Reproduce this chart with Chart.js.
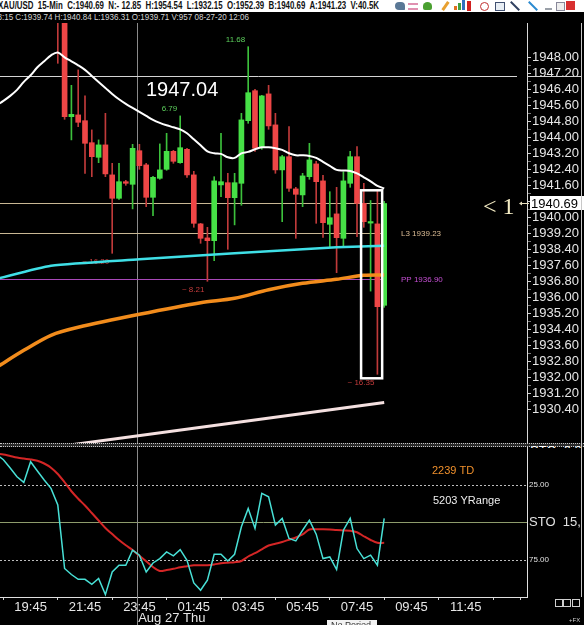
<!DOCTYPE html>
<html>
<head>
<meta charset="utf-8">
<title>XAU/USD 15-Min</title>
<script src="https://cdn.jsdelivr.net/npm/chart.js@4.4.1/dist/chart.umd.min.js"></script>
<style>
  body { margin: 0; background: #000; }
  #wrap { position: relative; width: 584px; height: 625px; overflow: hidden; background: #000;
          font-family: "Liberation Sans", Arial, sans-serif; }
  #hdr { position: absolute; left: 0; top: 0; width: 584px; height: 12px; background: #fff; overflow: hidden; }
  #hdrText { position: absolute; left: -2px; top: 0; font-size: 10px; font-weight: bold; line-height: 12px;
             color: #111; white-space: pre; transform-origin: 0 0; }
  #info { position: absolute; left: 0; top: 12px; font-size: 8.5px; line-height: 11px; color: #d4d4d4;
          white-space: pre; transform-origin: 0 0; }
  .ico { position: absolute; top: 2px; height: 8px; }
  canvas { position: absolute; left: 0; }
  #price { top: 23px; }
  #sto { top: 447px; }
  #divider { position: absolute; left: 0; top: 443px; width: 584px; height: 2px; background: #2a2a2a;
             border-top: 1px dotted #c8c8c8; border-bottom: 1px dotted #c8c8c8; }
  #stoTop { position: absolute; left: 530px; top: 444px; height: 4px; overflow: hidden; color: #fff;
            font-size: 13px; line-height: 13px; white-space: pre; }
  #rim { position: absolute; left: 581px; top: 23px; width: 1px; height: 574px; background: #c8c8c8; }
  .sq { position: absolute; top: 599px; width: 6px; height: 6px; border: 1px solid #cfcfcf; }
  #fx { position: absolute; left: 569px; top: 617px; font-size: 6px; color: #ccc; }
  #noper { position: absolute; left: 327px; top: 620px; width: 50px; height: 5px; background: #f2f2f2;
           overflow: hidden; font-size: 9px; line-height: 11px; color: #333; padding-left: 4px; box-sizing: border-box; }
</style>
</head>
<body>
<div id="wrap">
  <div id="hdr">
    <div id="hdrText">XAU/USD  15-Min  C:1940.69  N:- 12.85  H:1954.54  L:1932.15  O:1952.39  B:1940.69  A:1941.23  V:40.5K</div>
    <div class="ico" style="left:395px;width:10px;background:#5a7896;border-radius:5px 5px 1px 5px"></div>
    <div class="ico" style="left:408px;width:10px;height:3px;top:3px;border-top:2px solid #e090b0;border-bottom:2px solid #e090b0"></div>
    <div class="ico" style="left:423px;width:9px;background:#4aa030;border-radius:50% 50% 2px 2px"></div>
    <div class="ico" style="left:444px;width:3px;height:10px;top:1px;background:#e8a030;transform:rotate(35deg)"></div>
    <div class="ico" style="left:454px;width:3px;height:4px;top:6px;background:#e07020"></div>
    <div class="ico" style="left:458px;width:3px;height:7px;top:3px;background:#40a040"></div>
    <div class="ico" style="left:462px;width:3px;height:10px;top:0;background:#3070c0"></div>
    <div class="ico" style="left:467px;width:4px;height:10px;top:1px;background:#d02020"></div>
    <div class="ico" style="left:480px;width:7px;height:7px;border:1.5px solid #c03030;border-radius:50%"></div>
    <div class="ico" style="left:495px;width:8px;height:7px;border:1px solid #405070;background:#e8eef4"></div>
    <div class="ico" style="left:514px;width:2px;height:12px;top:0;background:#304060;transform:rotate(-45deg)"></div>
    <div class="ico" style="left:532px;width:2px;height:12px;top:0;background:#2a8ad0;transform:rotate(-45deg)"></div>
    <div class="ico" style="left:545px;width:7px;height:2px;top:8px;background:#9aa0a8"></div>
    <div class="ico" style="left:556px;width:7px;height:7px;border:1px solid #889;background:#eee"></div>
    <div class="ico" style="left:566px;width:9px;height:9px;top:1px;background:#d83030"></div>
  </div>
  <div id="info"><span id="infoHead">08</span>:15 C:1939.74 H:1940.84 L:1936.31 O:1939.71 V:957 08-27-20 12:06</div>
  <canvas id="price" width="584" height="420"></canvas>
  <div id="divider"></div>
  <div id="stoTop">STO  0.3</div>
  <canvas id="sto" width="584" height="178"></canvas>
  <div id="rim"></div>
  <div class="sq" style="left:555px"></div>
  <div class="sq" style="left:563px"></div>
  <div class="sq" style="left:572px"></div>
  <div id="fx">+FX</div>
  <div id="noper">No Period</div>
</div>
<script>
// ---- fit the header strips to the width they take in the screenshot
const hdrText = document.getElementById('hdrText');
hdrText.style.transform = 'scaleX(' + (381 / hdrText.getBoundingClientRect().width) + ')';
const info = document.getElementById('info');
const infoW = info.getBoundingClientRect().width;
const headW = document.getElementById('infoHead').getBoundingClientRect().width;
const infoScale = 247 / (infoW - headW);
info.style.transform = 'scaleX(' + infoScale + ')';
info.style.left = (2 - headW * infoScale) + 'px';

// ---- data (bar numbers count 15-min candles from 19:45 = bar 0)
const timeLabels = ['19:45', '21:45', '23:45', '01:45', '03:45', '05:45', '07:45', '09:45', '11:45'];
const timeTickBars = [0, 8, 16, 24, 32, 40, 48, 56, 64];
const daySeparator = 15.6;

const priceTicks = [1930.40, 1931.20, 1932.00, 1932.80, 1933.60, 1934.40, 1935.20, 1936.00, 1936.80,
  1937.60, 1938.40, 1939.20, 1940.00, 1940.80, 1941.60, 1942.40, 1943.20, 1944.00, 1944.80,
  1945.60, 1946.40, 1947.20, 1948.00];

const candleStart = 4;
const opens = [1951.5, 1950.3, 1945.03, 1945.12, 1944.83, 1943.73, 1943.0, 1943.62, 1942.12, 1940.95,
  1941.78, 1941.65, 1943.33, 1942.62, 1941.0, 1941.95, 1942.4, 1943.3, 1942.73, 1943.4,
  1942.12, 1939.67, 1938.97, 1938.83, 1941.62, 1941.73, 1940.98, 1941.7, 1944.83, 1946.33,
  1943.48, 1946.17, 1944.62, 1942.37, 1943.03, 1941.42, 1941.12, 1942.03, 1942.67, 1941.82,
  1939.65, 1940.17, 1938.95, 1941.7, 1943.03, 1940.7, 1939.71, 1939.67, 1935.6];
const highs = [1952.0, 1950.6, 1946.6, 1947.37, 1946.07, 1944.37, 1943.87, 1945.2, 1942.7, 1942.7,
  1941.85, 1943.65, 1943.65, 1942.7, 1942.05, 1943.67, 1944.2, 1943.35, 1945.07, 1943.45,
  1942.3, 1939.7, 1939.5, 1942.03, 1944.2, 1942.2, 1942.2, 1945.2, 1948.53, 1946.4,
  1946.1, 1946.6, 1945.2, 1943.1, 1944.53, 1941.5, 1942.2, 1943.7, 1942.8, 1942.1,
  1941.28, 1941.5, 1942.28, 1943.3, 1943.53, 1941.7, 1940.84, 1941.4, 1940.8];
const lows = [1947.7, 1944.9, 1943.87, 1944.53, 1942.2, 1942.03, 1942.73, 1942.03, 1938.2, 1940.9,
  1941.6, 1940.42, 1942.4, 1940.53, 1940.08, 1941.9, 1942.35, 1942.7, 1942.7, 1942.0,
  1939.5, 1938.7, 1936.8, 1937.83, 1941.03, 1938.4, 1939.62, 1940.6, 1944.7, 1943.3,
  1943.4, 1944.4, 1942.2, 1939.78, 1941.3, 1938.95, 1940.53, 1941.9, 1939.7, 1939.0,
  1938.53, 1937.23, 1938.5, 1941.5, 1939.03, 1939.5, 1936.31, 1932.15, 1935.5];
const closes = [1950.3, 1945.03, 1945.15, 1944.75, 1943.7, 1943.03, 1943.62, 1942.17, 1940.95, 1941.78,
  1941.7, 1943.45, 1942.58, 1941.0, 1942.0, 1942.37, 1943.3, 1942.8, 1943.48, 1942.12,
  1939.7, 1938.95, 1938.83, 1941.82, 1941.78, 1940.98, 1941.73, 1944.87, 1946.23, 1943.45,
  1946.07, 1944.57, 1942.37, 1943.03, 1941.45, 1941.15, 1942.07, 1942.87, 1941.78, 1939.73,
  1939.98, 1938.98, 1941.82, 1943.03, 1940.7, 1939.78, 1939.74, 1935.53, 1940.69];

const maWhiteStart = -5;
const maWhite = [1945.6, 1945.82, 1946.07, 1946.37, 1946.77, 1947.1, 1947.5, 1947.8, 1948.1, 1948.24,
  1948.0, 1947.8, 1947.6, 1947.37, 1947.07, 1946.77, 1946.47, 1946.17, 1945.9, 1945.67,
  1945.47, 1945.27, 1945.07, 1944.87, 1944.72, 1944.6, 1944.5, 1944.4, 1944.2, 1943.9,
  1943.6, 1943.3, 1943.2, 1943.17, 1943.0, 1942.97, 1943.2, 1943.27, 1943.4, 1943.5,
  1943.5, 1943.45, 1943.37, 1943.2, 1943.1, 1943.1, 1943.07, 1942.97, 1942.77, 1942.57,
  1942.37, 1942.34, 1942.32, 1942.2, 1942.0, 1941.8, 1941.57, 1941.44];

const maCyanBars = [-5, 3, 16, 30, 40, 45, 52];
const maCyan = [1936.92, 1937.58, 1937.9, 1938.2, 1938.4, 1938.5, 1938.58];

const maOrangeBars = [-5, -1, 3, 7, 16, 25, 30, 35, 40, 45, 49, 52];
const maOrange = [1932.5, 1933.35, 1934.1, 1934.5, 1935.15, 1935.73, 1935.95, 1936.38, 1936.7, 1936.9, 1937.1, 1937.12];

const trendBars = [-5, 52];
const trendLine = [1928.12, 1930.74];

const levelValues = [1947.04, 1940.69, 1939.23, 1936.90];
const levelNames = ['', '', 'L3', 'PP'];

const swingBars = [22, 32, 12, 26, 51];
const swingKinds = ['high', 'high', 'low', 'low', 'low'];
const swingTexts = ['6.79', '11.68', '~ 16.20', '~ 8.21', '~ 16.35'];

const stochStart = -5;
const stochK = [5, 8.5, 14, 19.8, 23.6, 9.8, 16, 22, 27.6, 38.7,
  81, 85, 88.2, 88.2, 91.5, 87.7, 98.4, 83.3, 78.8, 78.8,
  68.8, 72.1, 83.3, 77.3, 74.4, 69.9, 72.6, 68.4, 75.5, 90.6,
  95.5, 88.8, 71.5, 71.5, 76, 71.5, 53.2, 41, 54.3, 30.9,
  33.2, 52.1, 47.6, 61, 62.6, 55.5, 48.8, 58.1, 74.4, 73.3,
  81.7, 55.5, 47.6, 67.7, 74.4, 72.1, 78.8, 47.6];
const stochD = [4.5, 5, 6, 7, 7.7, 8.3, 9.2, 11, 13.8, 18,
  23.5, 29.5, 34.5, 39, 44, 49, 54, 58, 62, 65.5,
  68.7, 72.5, 76.2, 80, 82.6, 82, 81.2, 80.2, 79.5, 78.8,
  78.8, 78.8, 78.3, 77.5, 77.1, 76.8, 76, 73, 70.8, 68.2,
  65.7, 64.5, 63.3, 61.8, 60.3, 58.3, 55, 54.8, 54.8, 55,
  55.4, 55.6, 55.8, 56.8, 59.5, 62, 63.9, 63.9];
const stochLevels = [25, 50, 75];

// ---- helpers
const FONT = '"Liberation Sans", Arial, sans-serif';
Chart.defaults.font.family = FONT;
const X_MIN = -4.5, X_MAX = 73.0;
const P_MAX = 1949.715, P_MIN = 1928.715;

const series = (start, vals) => vals.map((v, k) => ({ x: start + k, y: v }));
const pairs = (xs, vals) => xs.map((b, k) => ({ x: b, y: vals[k] }));
const lineSet = (data, color, width, tension) => ({
  type: 'line', data, borderColor: color, borderWidth: width, pointRadius: 0,
  tension, clip: 0, order: 1
});

function hline(ctx, x0, x1, y, color, width, dash) {
  ctx.save();
  ctx.strokeStyle = color; ctx.lineWidth = width; ctx.setLineDash(dash || []);
  ctx.beginPath(); ctx.moveTo(x0, y); ctx.lineTo(x1, y); ctx.stroke();
  ctx.restore();
}
function vline(ctx, x, y0, y1, color) {
  ctx.save();
  ctx.strokeStyle = color; ctx.lineWidth = 1;
  ctx.beginPath(); ctx.moveTo(x, y0); ctx.lineTo(x, y1); ctx.stroke();
  ctx.restore();
}
function label(ctx, str, x, y, color, font, align, base) {
  ctx.save();
  ctx.fillStyle = color; ctx.font = font;
  ctx.textAlign = align || 'left'; ctx.textBaseline = base || 'middle';
  ctx.fillText(str, x, y);
  ctx.restore();
}

// ---- candles
const bars = opens.map((o, k) => candleStart + k);
const isUp = closes.map((c, k) => c >= opens[k]);
const bodyData = bars.map((b, k) => ({ x: b, y: [opens[k], closes[k]] }));
const wickData = bars.map((b, k) => ({ x: b, y: [lows[k], highs[k]] }));

// price panel extras
const priceOverlay = {
  id: 'priceOverlay',
  beforeDatasetsDraw(chart) {
    const { ctx, chartArea: a, scales: { x, y } } = chart;
    const sx = Math.round(x.getPixelForValue(daySeparator)) + 0.5;
    vline(ctx, sx, a.top, a.bottom, '#8a8a8a');

    const ends = [517, 383, 383, 383];
    const colors = ['#d4d4d4', '#c9b894', '#c9b894', '#a848b8'];
    const txtColors = ['', '', '#dcbc94', '#c650d4'];
    levelValues.forEach((v, k) => {
      const py = Math.round(y.getPixelForValue(v)) + 0.5;
      hline(ctx, a.left, ends[k], py, colors[k], 1);
      if (levelNames[k]) {
        label(ctx, levelNames[k] + ' ' + v.toFixed(2), 401, py, txtColors[k], '8px ' + FONT);
      }
    });
    // big level label under the top line
    const topY = y.getPixelForValue(levelValues[0]);
    label(ctx, levelValues[0].toFixed(2), 146, topY + 19.5, '#ffffff', '20px ' + FONT, 'left', 'alphabetic');

    swingBars.forEach((b, k) => {
      const idx = b - candleStart;
      const high = swingKinds[k] === 'high';
      const py = y.getPixelForValue(high ? highs[idx] : lows[idx]) + (high ? -7 : 8);
      label(ctx, swingTexts[k], x.getPixelForValue(b) - 3, py, high ? '#5ccf5c' : '#c43c3c', '8px ' + FONT, 'right');
    });
  },
  afterDraw(chart) {
    const { ctx, scales: { x, y } } = chart;
    // highlight box round the last drop
    const bx0 = x.getPixelForValue(48.6), bx1 = x.getPixelForValue(51.7);
    const by0 = y.getPixelForValue(1941.35), by1 = y.getPixelForValue(1931.95);
    ctx.save();
    ctx.strokeStyle = '#ffffff'; ctx.lineWidth = 2.5;
    ctx.strokeRect(bx0, by0, bx1 - bx0, by1 - by0);
    ctx.restore();

    // top line continues across the axis
    const ty = Math.round(y.getPixelForValue(levelValues[0])) + 0.5;
    hline(ctx, 528, 581, ty, '#d4d4d4', 1);

    // last price tag
    const last = closes[closes.length - 1];
    const py = y.getPixelForValue(last);
    ctx.save();
    ctx.fillStyle = '#ffffff';
    ctx.fillRect(530, Math.round(py) - 7, 54, 14);
    ctx.restore();
    label(ctx, last.toFixed(2), 531, py + 0.5, '#000000', '13px ' + FONT);
    label(ctx, '< 1', 483, py + 10, '#f4ecc4', '24px "Liberation Serif", "DejaVu Serif", serif', 'left', 'alphabetic');
    ctx.save();
    ctx.strokeStyle = '#e8e0c0'; ctx.fillStyle = '#e8e0c0'; ctx.lineWidth = 1;
    ctx.beginPath(); ctx.moveTo(520, py); ctx.lineTo(529, py); ctx.stroke();
    ctx.beginPath(); ctx.moveTo(519, py); ctx.lineTo(522, py - 2); ctx.lineTo(522, py + 2); ctx.closePath(); ctx.fill();
    ctx.restore();
  }
};

const priceTickValues = [];
priceTicks.forEach((v, k) => {
  priceTickValues.push(v);
  if (k < priceTicks.length - 1) priceTickValues.push((v + priceTicks[k + 1]) / 2);
});

new Chart(document.getElementById('price'), {
  type: 'line',
  data: {
    datasets: [
      lineSet(series(maWhiteStart, maWhite), '#ffffff', 2, 0.35),
      lineSet(pairs(maCyanBars, maCyan), '#3fdfe6', 2.5, 0.2),
      lineSet(pairs(maOrangeBars, maOrange), '#f28c1c', 3.5, 0.3),
      lineSet(pairs(trendBars, trendLine), '#f4e0e0', 3, 0),
      {
        type: 'bar', data: bodyData, order: 2, grouped: false, clip: 0,
        backgroundColor: isUp.map(u => u ? '#46e046' : '#ee4646'),
        barThickness: 5, minBarLength: 1.5, borderWidth: 0
      },
      {
        type: 'bar', data: wickData, order: 3, grouped: false, clip: 0,
        backgroundColor: isUp.map(u => u ? '#3cc03c' : '#c03a3a'),
        barThickness: 1, borderWidth: 0
      }
    ]
  },
  options: {
    responsive: false, animation: false, events: [], devicePixelRatio: 1,
    layout: { padding: 0 },
    plugins: { legend: { display: false }, tooltip: { enabled: false } },
    scales: {
      x: { type: 'linear', min: X_MIN, max: X_MAX, offset: false, display: false },
      y: {
        type: 'linear', position: 'right', min: P_MIN, max: P_MAX,
        afterBuildTicks: s => { s.ticks = priceTickValues.map(v => ({ value: v })); },
        afterFit: s => { s.width = 57; s.paddingTop = 0; s.paddingBottom = 0; },
        ticks: {
          autoSkip: false, padding: 1, color: '#e6e6e6', font: { size: 13 },
          callback: (v, i) => i % 2 === 0 ? priceTicks[i / 2].toFixed(2) : ''
        },
        grid: {
          drawOnChartArea: false, tickLength: 4,
          tickColor: c => c.index % 2 === 0 ? '#d0d0d0' : '#7a7a7a'
        },
        border: { color: '#d8d8d8' }
      }
    }
  },
  plugins: [priceOverlay]
});

// ---- stochastic panel
const xTickVals = [];
for (let b = timeTickBars[0] - 4; b <= X_MAX; b += 4) xTickVals.push(b);

const stochOverlay = {
  id: 'stochOverlay',
  beforeDatasetsDraw(chart) {
    const { ctx, chartArea: a, scales: { x, y } } = chart;
    stochLevels.forEach(v => {
      const py = Math.round(y.getPixelForValue(v)) + 0.5;
      if (v === 50) hline(ctx, a.left, a.right, py, '#8e9c6c', 1);
      else hline(ctx, a.left, a.right, py, '#bdbdbd', 1, [2, 2]);
    });
    const sx = Math.round(x.getPixelForValue(daySeparator)) + 0.5;
    vline(ctx, sx, 0, chart.height, '#8a8a8a');
  },
  afterDraw(chart) {
    const { ctx, scales: { x } } = chart;
    const sx = x.getPixelForValue(daySeparator);
    label(ctx, 'Aug 27 Thu', sx + 1.5, 175, '#e6e6e6', '13px ' + FONT, 'left', 'alphabetic');
    label(ctx, '2239 TD', 432, 24, '#f0902c', '11px ' + FONT);
    label(ctx, '5203 YRange', 433, 54, '#eeeeee', '11px ' + FONT);
  }
};

new Chart(document.getElementById('sto'), {
  type: 'line',
  data: {
    datasets: [
      { type: 'line', data: series(stochStart, stochK), borderColor: '#48e0d6', borderWidth: 1.5,
        pointRadius: 0, tension: 0, clip: 0, order: 1 },
      { type: 'line', data: series(stochStart, stochD), borderColor: '#d42626', borderWidth: 2,
        pointRadius: 0, tension: 0.3, clip: 0, order: 2 }
    ]
  },
  options: {
    responsive: false, animation: false, events: [], devicePixelRatio: 1,
    layout: { padding: 0 },
    plugins: { legend: { display: false }, tooltip: { enabled: false } },
    scales: {
      x: {
        type: 'linear', min: X_MIN, max: X_MAX, offset: false, position: 'bottom',
        afterBuildTicks: s => { s.ticks = xTickVals.map(v => ({ value: v })); },
        afterFit: s => { s.height = 28; s.paddingLeft = 0; s.paddingRight = 0; },
        ticks: {
          autoSkip: false, maxRotation: 0, padding: 0, color: '#e6e6e6', font: { size: 13 },
          callback: v => { const k = timeTickBars.indexOf(v); return k >= 0 ? timeLabels[k] : ''; }
        },
        grid: {
          drawOnChartArea: false, tickLength: 3,
          tickColor: c => (c.tick && timeTickBars.includes(c.tick.value)) ? 'rgba(0,0,0,0)' : '#d0d0d0'
        },
        border: { color: '#e0e0e0' }
      },
      y: {
        type: 'linear', position: 'right', min: 0, max: 100, reverse: true,
        afterBuildTicks: s => { s.ticks = stochLevels.map(v => ({ value: v })); },
        afterFit: s => { s.width = 57; s.paddingTop = 0; s.paddingBottom = 0; },
        ticks: {
          autoSkip: false, padding: 2, color: '#e0e0e0',
          font: c => ({ size: c.tick && c.tick.value === 50 ? 13 : 8 }),
          callback: v => v === 50 ? 'STO  15,' : v.toFixed(2)
        },
        grid: { drawOnChartArea: false, drawTicks: false },
        border: { color: '#e0e0e0' }
      }
    }
  },
  plugins: [stochOverlay]
});
</script>
</body>
</html>
